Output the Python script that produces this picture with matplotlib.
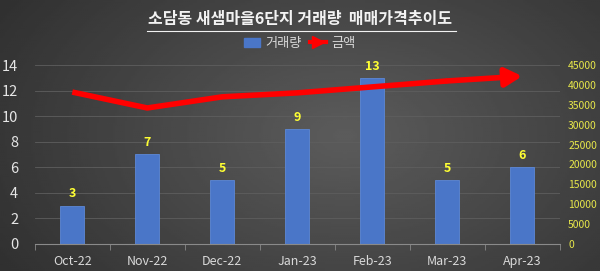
import numpy as np
import matplotlib.pyplot as plt
from matplotlib.patches import Patch
from matplotlib.lines import Line2D

plt.rcParams['font.family'] = ['Noto Sans CJK KR', 'DejaVu Sans']

# Chart data
months = ['Oct-22', 'Nov-22', 'Dec-22', 'Jan-23', 'Feb-23', 'Mar-23', 'Apr-23']
volume = [3, 7, 5, 9, 13, 5, 6]
price = [38200, 34200, 37000, 38000, 39500, 41000, 42200]

left_ticks = [0, 2, 4, 6, 8, 10, 12, 14]
right_ticks = [0, 5000, 10000, 15000, 20000, 25000, 30000, 35000, 40000, 45000]


def main():
    fig = plt.figure(figsize=(6, 2.71), dpi=100)

    # Dark gradient background (darker on the left edge)
    bg = fig.add_axes([0, 0, 1, 1], zorder=-10)
    gx, gy = np.meshgrid(np.linspace(-1, 1, 300), np.linspace(-1, 1, 140))
    r = np.sqrt(((gx - 0.15) * 0.85) ** 2 + (gy * 0.6) ** 2)
    bg.imshow(0.36 - 0.15 * r, cmap='gray', vmin=0, vmax=1, aspect='auto',
              extent=[0, 1, 0, 1])
    bg.axis('off')

    ax = fig.add_axes([0.058, 0.1, 0.875, 0.66])
    ax.set_facecolor('none')
    x = np.arange(len(months))

    # Bars
    bars = ax.bar(x, volume, 0.32, color='#4a76c8', edgecolor='#5d88d6',
                  linewidth=0.6, zorder=2)
    for b, v in zip(bars, volume):
        ax.text(b.get_x() + b.get_width() / 2, v + 0.4, str(v), ha='center',
                va='bottom', color='#ffff33', fontsize=9, fontweight='bold')

    ax.set_xlim(-0.5, len(months) - 0.5)
    ax.set_ylim(0, 14)
    ax.set_yticks(left_ticks)
    ax.set_xticks(x)
    ax.set_xticklabels(months)
    ax.set_xticks(np.arange(-0.5, len(months)), minor=True)
    ax.tick_params(axis='x', which='major', length=0, colors='#d9d9d9',
                   labelsize=9, pad=8)
    ax.tick_params(axis='x', which='minor', length=4, color='#888888')
    ax.tick_params(axis='y', length=0, colors='#e6e6e6', labelsize=10.5, pad=12)
    ax.grid(axis='y', color='#5e5e5e', linewidth=0.6, zorder=0)
    ax.set_axisbelow(True)
    for s in ['top', 'right', 'left']:
        ax.spines[s].set_visible(False)
    ax.spines['bottom'].set_color('#8a8a8a')

    # Price line with arrow on a second axis
    ax2 = ax.twinx()
    ax2.plot(x[:-1], price[:-1], color='#ff0000', linewidth=4,
             solid_capstyle='butt', zorder=3)
    ax2.annotate('', xy=(x[-1], price[-1]), xytext=(x[-2], price[-2]),
                 arrowprops=dict(arrowstyle='-|>,head_length=1.0,head_width=0.55',
                                 color='#ff0000', lw=4, shrinkA=0, shrinkB=0))
    ax2.set_ylim(0, 45000)
    ax2.set_yticks(right_ticks)
    ax2.tick_params(axis='y', length=0, colors='#e8e84a', labelsize=7.5, pad=6)
    for s in ax2.spines.values():
        s.set_visible(False)

    # Title and legend
    fig.text(0.5, 0.93, '소담동 새샘마을6단지 거래량  매매가격추이도', ha='center',
             va='center', color='#f2f2f2', fontsize=11.5, fontweight='bold')
    fig.add_artist(Line2D([0.245, 0.76], [0.885, 0.885], color='#f2f2f2',
                          linewidth=0.8))
    handles = [Patch(color='#4a76c8', label='거래량'),
               Line2D([0], [0], color='#ff0000', lw=3, marker='>',
                      markersize=8, markevery=[1], label='금액')]
    fig.legend(handles=handles, loc='center', bbox_to_anchor=(0.5, 0.84),
               ncol=2, frameon=False, fontsize=9.5, labelcolor='#d9d9d9',
               handlelength=1.2, handletextpad=0.45, columnspacing=0.6)

    fig.savefig('out.png', dpi=100)


if __name__ == '__main__':
    main()
